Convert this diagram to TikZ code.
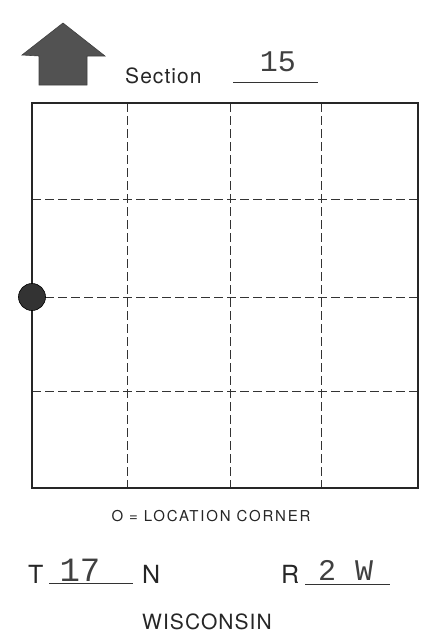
\documentclass[tikz,border=0pt]{standalone}
\usepackage{fontspec}
\setmainfont{TeX Gyre Heros}
\newfontfamily\spacedfont[LetterSpace=12]{TeX Gyre Heros}
\newfontfamily\widefont[LetterSpace=5]{TeX Gyre Heros}
\newfontfamily\handfont{Liberation Mono}
\begin{document}
\begin{tikzpicture}[x=1pt,y=-1pt,
  frame/.style={line width=2.2pt,draw=black!85},
  gridline/.style={line width=0.9pt,draw=black!80,dash pattern=on 9pt off 4pt},
  blank/.style={line width=0.8pt,draw=black!80},
  lbl/.style={inner sep=0pt,anchor=base,text=black!85},
  hand/.style={inner sep=0pt,anchor=base,text=black!75,font=\handfont\fontsize{26}{26}\selectfont}]
\useasboundingbox (0,0) rectangle (425,635);
% north arrow
\filldraw[fill=black!68,draw=black!75,line width=0.6pt]
  (63,23) -- (105,56) -- (87,56) -- (87,85) -- (39,85) -- (39,56) -- (22,55) -- cycle;
% Section
\node[lbl,font=\widefont\fontsize{21}{21}\selectfont,anchor=base west] (sec) at (125,83) {Section};
\coordinate (secA) at (233,82);
\coordinate (secB) at (318,82);
\draw[blank] (secA) -- (secB);
\node[hand,font=\handfont\fontsize{30}{30}\selectfont] (secnum) at (278,71) {15};
% frame corners
\coordinate (tl) at (32,103);
\coordinate (br) at (418,488);
% dashed grid
\foreach \x/\n in {127/a,230/b,321/c} {
  \coordinate (v\n1) at (\x,103);
  \coordinate (v\n2) at (\x,488);
  \draw[gridline] (v\n1) -- (v\n2);
}
\foreach \y/\n in {199/a,297/b,391/c} {
  \coordinate (h\n1) at (32,\y);
  \coordinate (h\n2) at (418,\y);
  \draw[gridline] (h\n1) -- (h\n2);
}
\draw[frame] (tl) rectangle (br);
% location corner
\node[circle,fill=black!80,draw=black,line width=0.6pt,minimum size=27pt,inner sep=0pt] (corner) at (32,297) {};
% legend
\node[lbl,font=\spacedfont\fontsize{15}{15}\selectfont] (legend) at (211,521) {O = LOCATION CORNER};
% township
\node[lbl,font=\fontsize{25}{25}\selectfont,anchor=base west] (T) at (28,583) {T};
\coordinate (tA) at (49,583);
\coordinate (tB) at (133,583);
\draw[blank] (tA) -- (tB);
\node[hand,font=\handfont\fontsize{34}{34}\selectfont] (tnum) at (80,581) {17};
\node[lbl,font=\fontsize{25}{25}\selectfont,anchor=base west] (N) at (142,583) {N};
% range
\node[lbl,font=\fontsize{25}{25}\selectfont,anchor=base west] (R) at (281,583) {R};
\coordinate (rA) at (305,584);
\coordinate (rB) at (390,584);
\draw[blank] (rA) -- (rB);
\node[hand,font=\handfont\fontsize{30}{30}\selectfont] (rnum) at (327,580) {2};
\node[hand,font=\handfont\fontsize{30}{30}\selectfont] (rdir) at (364,580) {W};
% state
\node[lbl,font=\widefont\fontsize{21}{21}\selectfont] (state) at (207,629) {WISCONSIN};
\end{tikzpicture}
\end{document}
